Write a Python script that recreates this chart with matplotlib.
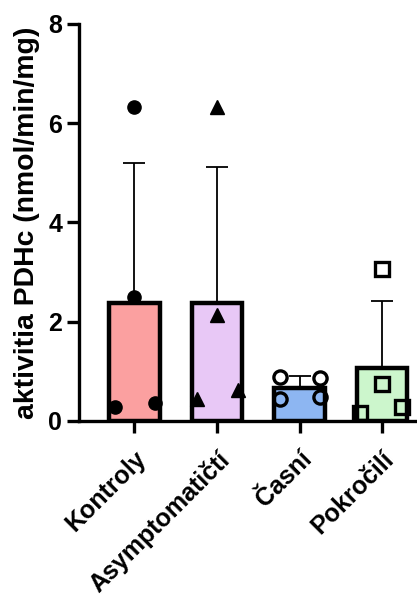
import numpy as np
import matplotlib
matplotlib.use("Agg")
import matplotlib.pyplot as plt

plt.rcParams['font.family'] = ['Liberation Sans', 'DejaVu Sans']
plt.rcParams['font.weight'] = 'bold'

groups = ["Kontroly", "Asymptomatičtí", "Časní", "Pokročilí"]
kontroly = [6.33, 2.49, 0.29, 0.37]
asymptomaticti = [6.32, 2.13, 0.44, 0.62]
casni = [0.88, 0.86, 0.44, 0.48]
pokrocili = [3.06, 0.75, 0.16, 0.28]
# horizontal jitter of the individual points within each group
jitter = [[0.0, 0.0, -0.24, 0.25],
          [0.0, 0.0, -0.24, 0.25],
          [-0.24, 0.25, -0.24, 0.25],
          [0.0, 0.0, -0.27, 0.24]]
y_ticks = [0, 2, 4, 6, 8]
ylabel = "aktivitia PDHc (nmol/min/mg)"

series = [kontroly, asymptomaticti, casni, pokrocili]
colors = ["#FBA0A0", "#E8C8F6", "#8DB6F2", "#CCF6CC"]
markers = ["o", "^", "o", "s"]
filled = [True, True, False, False]

means = [np.mean(s) for s in series]
sds = [np.std(s, ddof=1) for s in series]

fig = plt.figure(figsize=(4.17, 5.98), dpi=100)
ax = fig.add_axes([0.189, 0.296, 0.85, 0.664])

x = np.arange(len(groups))
ax.errorbar(x, means, yerr=[np.zeros(len(sds)), sds], fmt="none",
            ecolor="black", elinewidth=1.3, capsize=8, capthick=1.3, zorder=1)
ax.bar(x, means, width=0.61, color=colors, edgecolor="black", linewidth=3.2,
       zorder=2)

for i, vals in enumerate(series):
    xs = x[i] + np.array(jitter[i])
    if filled[i]:
        ax.plot(xs, vals, linestyle="none", marker=markers[i],
                markersize=10 if markers[i] == "^" else 9.5,
                color="black", zorder=3, clip_on=False)
    else:
        ax.plot(xs, vals, linestyle="none", marker=markers[i], markersize=9.5,
                markerfacecolor="none", markeredgecolor="black",
                markeredgewidth=2.4, zorder=3, clip_on=False)

ax.set_xlim(-0.673, 3.62)
ax.set_ylim(0, 8)
ax.set_yticks(y_ticks)
ax.set_yticklabels([str(t) for t in y_ticks], fontsize=18, fontweight="bold")
ax.set_xticks(x)
ax.set_xticklabels(groups, rotation=45, ha="right", rotation_mode="anchor",
                   fontsize=18, fontweight="bold")
ax.set_ylabel(ylabel, fontsize=20.4, fontweight="bold", labelpad=6)

for side in ["top", "right"]:
    ax.spines[side].set_visible(False)
for side in ["left", "bottom"]:
    ax.spines[side].set_linewidth(2.4)
ax.tick_params(axis="both", direction="out", width=2.4, length=8.5)
ax.tick_params(axis="y", pad=3.5)
ax.tick_params(axis="x", pad=10)

fig.savefig("out.png", dpi=100)
